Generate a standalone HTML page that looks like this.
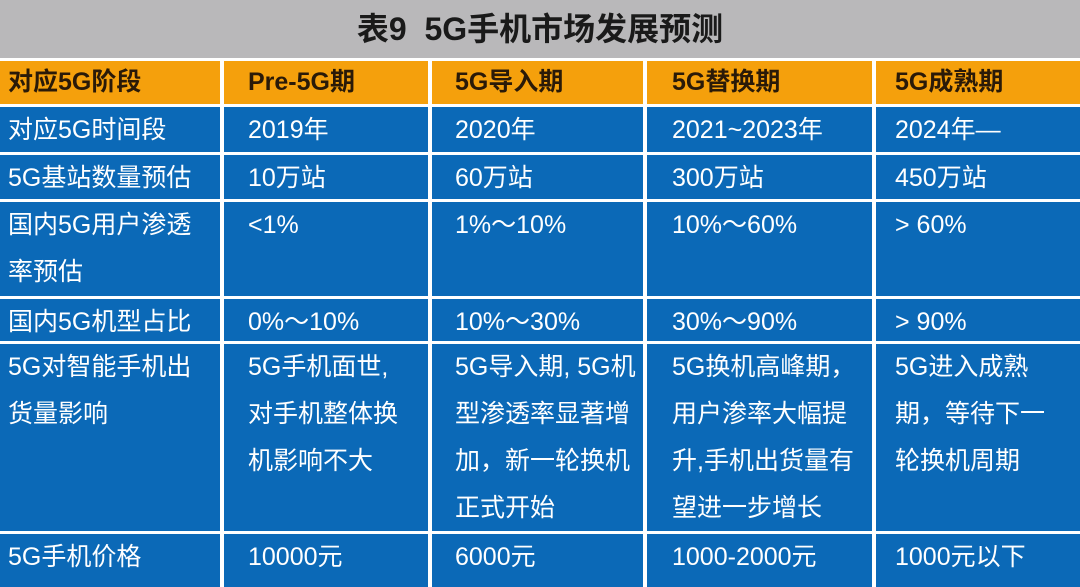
<!DOCTYPE html>
<html><head><meta charset="utf-8"><style>
body{margin:0;width:1080px;height:587px;background:#fff;position:relative;overflow:hidden;font-family:"Liberation Sans","Noto Sans CJK SC",sans-serif}
.t{position:absolute;left:0;top:0;width:1080px;height:58px;background:#b9b8ba;text-align:center;font-weight:bold;font-size:32px;line-height:58px;color:#1a1a1a}
.c{position:absolute;box-sizing:border-box;color:#fff;font-size:25px;line-height:47px;white-space:nowrap}
.h{background:#f5a00c;color:#2a1a08;font-weight:bold;font-size:25px;line-height:43px}
.b{background:#0b69b7}
</style></head><body>
<div class="t">表9&nbsp;&nbsp;5G手机市场发展预测</div>
<div id="g"></div>
<script>
var cols=[[0,220,8],[224,428,248],[432,643,455],[647,872,672],[876,1080,895]];
var rows=[[61,104],[107,152],[155,199],[202,296],[299,341],[344,531],[534,587]];
var data=[
["对应5G阶段","Pre-5G期","5G导入期","5G替换期","5G成熟期"],
["对应5G时间段","2019年","2020年","2021~2023年","2024年—"],
["5G基站数量预估","10万站","60万站","300万站","450万站"],
["国内5G用户渗透<br>率预估","&lt;1%","1%～10%","10%～60%","&gt; 60%"],
["国内5G机型占比","0%～10%","10%～30%","30%～90%","&gt; 90%"],
["5G对智能手机出<br>货量影响","5G手机面世,<br>对手机整体换<br>机影响不大","5G导入期, 5G机<br>型渗透率显著增<br>加，新一轮换机<br>正式开始","5G换机高峰期，<br>用户渗率大幅提<br>升,手机出货量有<br>望进一步增长","5G进入成熟<br>期，等待下一<br>轮换机周期"],
["5G手机价格","10000元","6000元","1000-2000元","1000元以下"]];
var h="";
rows.forEach(function(r,i){cols.forEach(function(c,j){
h+='<div class="c '+(i==0?'h':'b')+'" style="left:'+c[0]+'px;top:'+r[0]+'px;width:'+(c[1]-c[0])+'px;height:'+(r[1]-r[0])+'px;padding-left:'+(c[2]-c[0])+'px">'+data[i][j]+'</div>';});});
document.getElementById("g").innerHTML=h;
</script>
</body></html>
